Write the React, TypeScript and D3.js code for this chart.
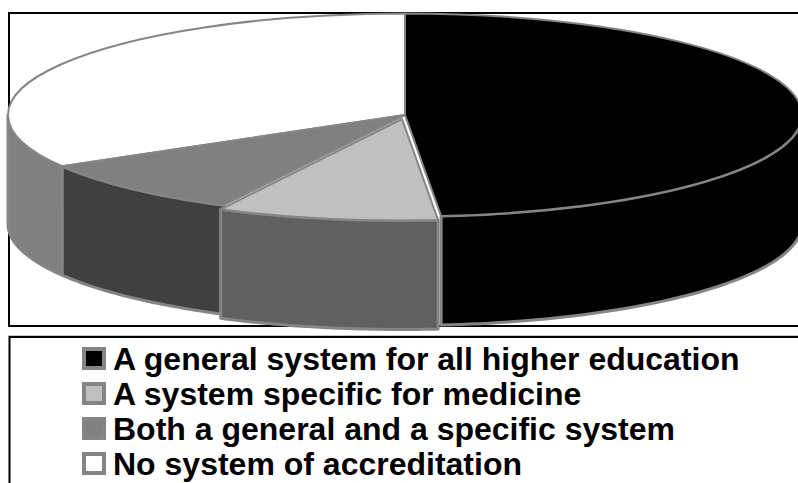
import React from "react";
import * as d3 from "d3";

// Accreditation systems, share of respondents (%)
const categories = [
  "A general system for all higher education",
  "A system specific for medicine",
  "Both a general and a specific system",
  "No system of accreditation",
];
const shares = [48.55, 9.0, 9.03, 33.42];
const topColors = ["#000000", "#c0c0c0", "#808080", "#ffffff"];
const sideColors = ["#000000", "#606060", "#404040", "#808080"];
const explodeOffsets = [[0, 0], [-3, 4], [0, 0], [0, 0]];

const WIDTH = 798;
const HEIGHT = 483;
const cx = 405;
const cy = 115;
const rx = 397;
const ry = 101.5;
const depth = 109;
const edge = "#858585";

const pieAngles = d3.pie<number>().sort(null)(shares);
const wedge = d3.arc<d3.PieArcDatum<number>>().innerRadius(0).outerRadius(rx);

const rimPoint = (a: number): [number, number] => [rx * Math.sin(a), -ry * Math.cos(a)];

// Outline of the visible cylinder wall between two pie angles.
function sidePath(a0: number, a1: number): string | null {
  const from = Math.max(a0, Math.PI / 2);
  const to = Math.min(a1, (3 * Math.PI) / 2);
  if (to <= from) return null;
  const steps = d3.range(0, 61).map((i) => from + ((to - from) * i) / 60);
  const top = steps.map(rimPoint);
  const bottom = steps.slice().reverse().map((a) => {
    const [x, y] = rimPoint(a);
    return [x, y + depth] as [number, number];
  });
  return d3.line()([...top, ...bottom]) + "Z";
}

const legendY = d3.scalePoint<string>().domain(categories).range([370, 475]);

export default function App() {
  const drawOrder = [3, 0, 2, 1];
  return (
    <svg
      width={WIDTH}
      height={HEIGHT}
      style={{ position: "absolute", left: 0, top: 0, background: "#fff" }}
    >
      {/* chart frame */}
      <path d="M798,13H9V326H798" fill="none" stroke="#000" strokeWidth={2} />
      {/* legend frame */}
      <path d="M798,335.5H8" fill="none" stroke="#c8c8c8" strokeWidth={1} />
      <path d="M798,337H9.5V483" fill="none" stroke="#000" strokeWidth={2} />

      {drawOrder.map((i) => {
        const d = pieAngles[i];
        const path = sidePath(d.startAngle, d.endAngle);
        const [dx, dy] = explodeOffsets[i];
        return path ? (
          <path
            key={`side-${i}`}
            d={path}
            transform={`translate(${cx + dx},${cy + dy})`}
            fill={sideColors[i]}
            stroke={edge}
            strokeWidth={3}
            strokeLinejoin="round"
          />
        ) : null;
      })}

      {drawOrder.map((i) => {
        const d = pieAngles[i];
        const [dx, dy] = explodeOffsets[i];
        return (
          <g key={`top-${i}`} transform={`translate(${cx + dx},${cy + dy}) scale(1,${ry / rx})`}>
            <path
              d={wedge(d) ?? ""}
              fill={topColors[i]}
              stroke={edge}
              strokeWidth={2}
              vectorEffect="non-scaling-stroke"
              strokeLinejoin="round"
            />
          </g>
        );
      })}

      {categories.map((c, i) => {
        const y = legendY(c) ?? 0;
        return (
          <g key={c}>
            <rect
              x={84}
              y={y - 21}
              width={20}
              height={19}
              fill={topColors[i]}
              stroke={edge}
              strokeWidth={4}
            />
            <text
              x={113}
              y={y}
              fontFamily="'Liberation Sans', Arial, sans-serif"
              fontWeight="bold"
              fontSize={32}
              fill="#000"
            >
              {c}
            </text>
          </g>
        );
      })}
    </svg>
  );
}
